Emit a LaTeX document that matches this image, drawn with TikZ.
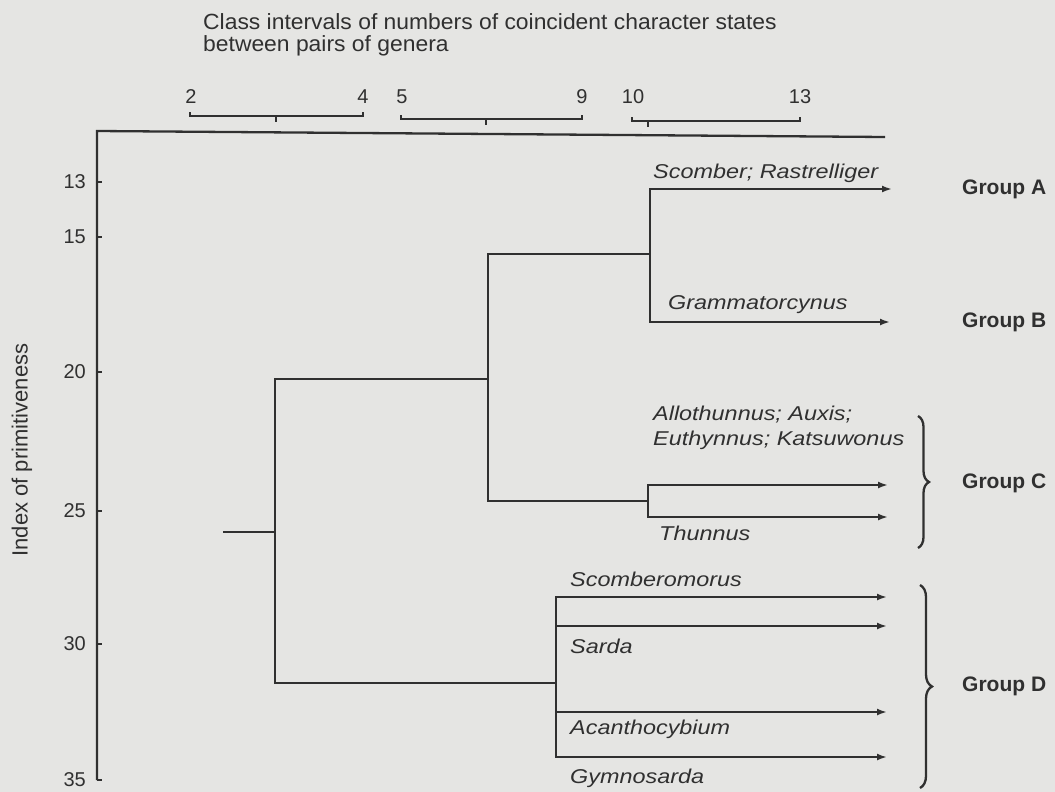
\documentclass[tikz,border=0pt]{standalone}
\usepackage{fontspec}
\setmainfont{Liberation Sans}
\newfontfamily\headfont[FakeStretch=1.04]{Liberation Sans}
\newfontfamily\taxonfont[FakeStretch=1.17]{Liberation Sans}
\usetikzlibrary{arrows.meta,decorations.pathreplacing}
\definecolor{PaperGray}{RGB}{229,229,227}
\definecolor{InkGray}{RGB}{48,48,48}

\begin{document}
\begin{tikzpicture}[x=1pt,y=-1pt,>={Latex[length=10pt,width=7pt]},
  ink/.style={draw=InkGray,line width=2.3pt},
  branch/.style={ink,->},
  taxon/.style={anchor=base west,inner sep=0pt,text=InkGray,align=left,
    font=\taxonfont\itshape\fontsize{20}{25}\selectfont},
  grouplabel/.style={anchor=west,inner sep=0pt,text=InkGray,
    font=\bfseries\fontsize{21}{24}\selectfont},
  scalenum/.style={inner sep=0pt,text=InkGray,font=\fontsize{20}{22}\selectfont}]
\fill[PaperGray] (0,0) rectangle (1055,792);
\useasboundingbox (0,0) rectangle (1055,792);

\node[anchor=north west,inner sep=0pt,align=left,text=InkGray,
  font=\headfont\fontsize{22}{22}\selectfont] (title) at (203,13)
  {Class intervals of numbers of coincident character states\\between pairs of genera};

\foreach \lo/\hi/\mid/\y/\nlo/\nhi in {190/363/276/116/2/4,401/582/486/119/5/9,632/800/648/121/10/13}{
  \draw[ink] (\lo,\y-4) -- (\lo,\y) -- (\hi,\y) -- (\hi,\y-4);
  \draw[ink] (\mid,\y) -- (\mid,\y+6);
  \node[scalenum] (cls\nlo) at (\lo+1,97) {\nlo};
  \node[scalenum] (cls\nhi) at (\hi,97) {\nhi};
}

\draw[ink] (97,780) -- (97,131) -- (885,137);
\foreach \v/\y in {13/182,15/237,20/372,25/511,30/644,35/780}{
  \draw[ink] (97,\y) -- (102,\y);
  \node[scalenum,anchor=east] (idx\v) at (86,\y) {\v};
}
\node[rotate=90,inner sep=0pt,text=InkGray,font=\fontsize{22}{24}\selectfont]
  (axislabel) at (22,450) {Index of primitiveness};

\coordinate (stub) at (223,532);
\coordinate (root) at (275,532);
\coordinate (kAC) at (488,379);
\coordinate (kD) at (556,683);
\coordinate (kAB) at (650,254);
\coordinate (kC) at (648,501);
\coordinate (tipA) at (892,189);
\coordinate (tipB) at (890,322);
\coordinate (tipC1) at (888,485);
\coordinate (tipC2) at (888,517);
\coordinate (tipD1) at (887,597);
\coordinate (tipD2) at (887,626);
\coordinate (tipD3) at (887,712);
\coordinate (tipD4) at (887,757);

\draw[ink] (stub) -- (root);
\draw[ink] (root) |- (kAC);
\draw[ink] (root) |- (kD);
\draw[ink] (kAC) |- (kAB);
\draw[ink] (kAC) |- (kC);
\draw[branch] (kAB) |- (tipA);
\draw[branch] (kAB) |- (tipB);
\draw[branch] (kC) |- (tipC1);
\draw[branch] (kC) |- (tipC2);
\foreach \t in {tipD1,tipD2,tipD3,tipD4}
  \draw[branch] (kD) |- (\t);

\node[taxon] (scomber) at (653,178) {Scomber; Rastrelliger};
\node[taxon] (gramma) at (668,309) {Grammatorcynus};
\node[taxon] (allo) at (653,445) {Allothunnus; Auxis;\\Euthynnus; Katsuwonus};
\node[taxon] (thunnus) at (659,540) {Thunnus};
\node[taxon] (scombero) at (570,586) {Scomberomorus};
\node[taxon] (sarda) at (570,653) {Sarda};
\node[taxon] (acantho) at (570,734) {Acanthocybium};
\node[taxon] (gymno) at (570,783) {Gymnosarda};

\coordinate (braceCtop) at (918,416);
\coordinate (braceCbot) at (918,548);
\coordinate (braceDtop) at (920,585);
\coordinate (braceDbot) at (920,788);
\draw[ink,decorate,decoration={brace,amplitude=11pt}] (braceCtop) -- (braceCbot);
\draw[ink,decorate,decoration={brace,amplitude=12pt}] (braceDtop) -- (braceDbot);

\node[grouplabel] (groupA) at (962,189) {Group A};
\node[grouplabel] (groupB) at (962,322) {Group B};
\node[grouplabel] (groupC) at (962,483) {Group C};
\node[grouplabel] (groupD) at (962,686) {Group D};
\end{tikzpicture}
\end{document}
